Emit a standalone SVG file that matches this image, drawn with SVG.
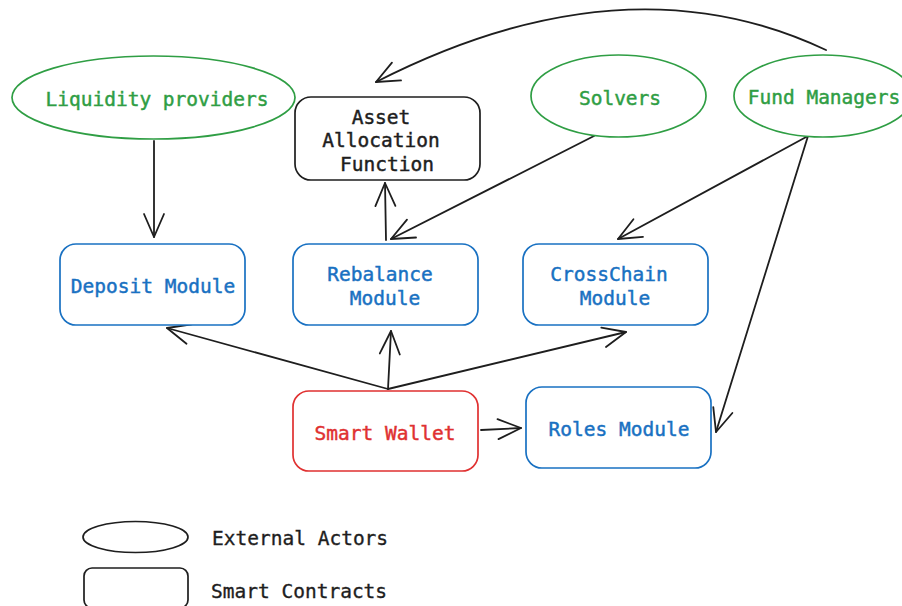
<svg xmlns="http://www.w3.org/2000/svg" width="902" height="606" viewBox="0 0 902 606">
  <style>
    .lbl { font-family: "DejaVu Sans Mono", "Liberation Mono", monospace; font-size: 19.5px; text-anchor: middle; stroke-width: 0.45; }
    .actor { fill: #ffffff; stroke: #2f9e44; stroke-width: 1.7; }
    .actor-t { fill: #2f9e44; stroke: #2f9e44; }
    .contract { fill: #ffffff; stroke: #1971c2; stroke-width: 1.7; }
    .contract-t { fill: #1971c2; stroke: #1971c2; }
    .wallet { fill: #ffffff; stroke: #e03131; stroke-width: 1.7; }
    .wallet-t { fill: #e03131; stroke: #e03131; }
    .plain { fill: #ffffff; stroke: #1e1e1e; stroke-width: 1.7; }
    .plain-t { fill: #1e1e1e; stroke: #1e1e1e; }
    .edge { fill: none; stroke: #1e1e1e; stroke-width: 1.8; stroke-linecap: round; marker-end: url(#head); }
    .legend-t { font-family: "DejaVu Sans Mono", "Liberation Mono", monospace; font-size: 19.5px; fill: #1e1e1e; stroke: #1e1e1e; stroke-width: 0.35; }
  </style>
  <defs>
    <marker id="head" markerUnits="userSpaceOnUse" markerWidth="30" markerHeight="30" viewBox="-26 -15 30 30" refX="0" refY="0" orient="auto">
      <path d="M-23,-10 L0,0 L-23,10" fill="none" stroke="#1e1e1e" stroke-width="1.8" stroke-linecap="round" stroke-linejoin="round"/>
    </marker>
  </defs>

  <rect width="902" height="606" fill="#ffffff"/>

  <!-- connectors -->
  <g id="connectors">
    <path class="edge" d="M154,141 L154,237"/>
    <path class="edge" d="M826,50 Q625,-45 376,82"/>
    <path class="edge" d="M386,240 L385,183"/>
    <path class="edge" d="M594,136 L391,239"/>
    <path class="edge" d="M808,136 L618,239"/>
    <path class="edge" d="M808,136 L716,432"/>
    <path class="edge" d="M388,389 L167,328"/>
    <path class="edge" d="M388,389 L391,331"/>
    <path class="edge" d="M388,389 L626,332"/>
    <path class="edge" d="M481,430 L521,428"/>
  </g>

  <!-- external actors -->
  <g id="liquidity-providers">
    <ellipse class="actor" cx="153.5" cy="97.5" rx="141.5" ry="41.5"/>
    <text class="lbl actor-t" x="157" y="106">Liquidity providers</text>
  </g>
  <g id="solvers">
    <ellipse class="actor" cx="618.5" cy="96" rx="87.5" ry="41"/>
    <text class="lbl actor-t" x="620" y="105">Solvers</text>
  </g>
  <g id="fund-managers">
    <ellipse class="actor" cx="823" cy="96" rx="89" ry="41"/>
    <text class="lbl actor-t" x="824" y="104">Fund Managers</text>
  </g>

  <!-- contracts -->
  <g id="asset-allocation">
    <rect class="plain" x="295" y="97" width="185" height="83" rx="16"/>
    <text class="lbl plain-t" x="381" y="124">Asset</text>
    <text class="lbl plain-t" x="381" y="147">Allocation</text>
    <text class="lbl plain-t" x="387" y="171">Function</text>
  </g>
  <g id="deposit-module">
    <rect class="contract" x="60" y="244" width="185" height="81" rx="16"/>
    <text class="lbl contract-t" x="153" y="293">Deposit Module</text>
  </g>
  <g id="rebalance-module">
    <rect class="contract" x="293" y="244" width="185" height="81" rx="16"/>
    <text class="lbl contract-t" x="380" y="281">Rebalance</text>
    <text class="lbl contract-t" x="385" y="305">Module</text>
  </g>
  <g id="crosschain-module">
    <rect class="contract" x="523" y="244" width="185" height="81" rx="16"/>
    <text class="lbl contract-t" x="609" y="281">CrossChain</text>
    <text class="lbl contract-t" x="615" y="305">Module</text>
  </g>
  <g id="smart-wallet">
    <rect class="wallet" x="293" y="391" width="185" height="80" rx="16"/>
    <text class="lbl wallet-t" x="385" y="440">Smart Wallet</text>
  </g>
  <g id="roles-module">
    <rect class="contract" x="526" y="387" width="185" height="81" rx="16"/>
    <text class="lbl contract-t" x="619" y="436">Roles Module</text>
  </g>

  <!-- legend -->
  <g id="legend">
    <ellipse class="plain" cx="135.5" cy="537" rx="52.5" ry="15.5"/>
    <text class="legend-t" x="212" y="545">External Actors</text>
    <rect class="plain" x="84" y="568" width="104" height="40" rx="8"/>
    <text class="legend-t" x="211" y="598">Smart Contracts</text>
  </g>
</svg>
